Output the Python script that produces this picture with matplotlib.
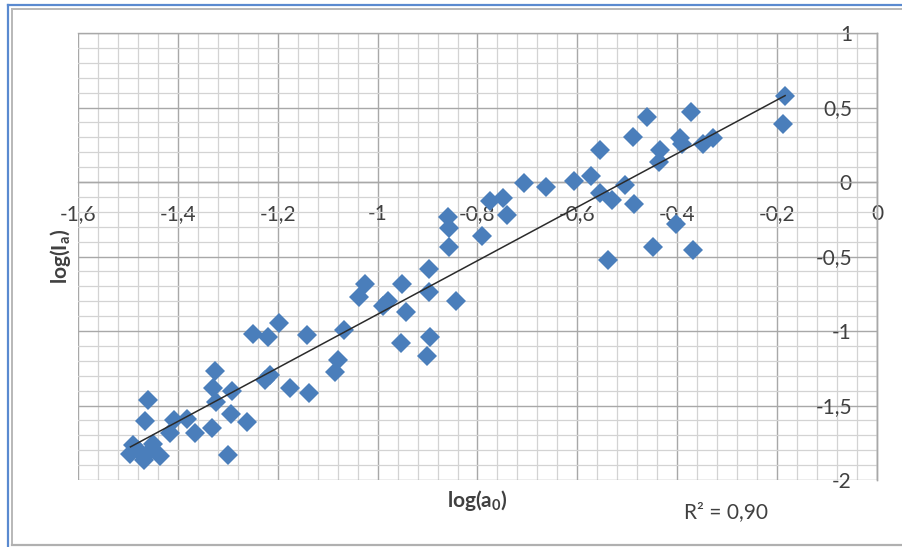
import numpy as np
import matplotlib
matplotlib.use("Agg")
import matplotlib.pyplot as plt
from matplotlib.ticker import FixedLocator, FixedFormatter, MultipleLocator
from matplotlib.lines import Line2D

# ---------------- data ----------------
log_a0 = [-0.184, -0.188, -0.373, -0.461, -0.489, -0.395, -0.391, -0.349, -0.329, -0.434,
          -0.437, -0.555, -0.572, -0.606, -0.505, -0.555, -0.531, -0.486, -0.403, -0.448,
          -0.368, -0.539, -0.663, -0.707, -0.749, -0.774, -0.741, -0.791, -0.860, -0.857,
          -0.858, -0.897, -0.898, -0.843, -0.952, -0.943, -0.980, -0.989, -1.026, -1.038,
          -0.953, -0.896, -0.901, -1.067, -1.079, -1.085, -1.142, -1.197, -1.220, -1.249,
          -1.138, -1.175, -1.215, -1.225, -1.326, -1.330, -1.292, -1.324, -1.294, -1.262,
          -1.331, -1.299, -1.460, -1.466, -1.408, -1.381, -1.416, -1.365, -1.489, -1.450,
          -1.495, -1.468, -1.436, -1.458, -1.480]
log_Ia = [0.575, 0.390, 0.472, 0.438, 0.301, 0.294, 0.252, 0.252, 0.294, 0.216,
          0.135, 0.213, 0.043, 0.010, -0.023, -0.072, -0.122, -0.150, -0.282, -0.435,
          -0.458, -0.523, -0.035, -0.010, -0.110, -0.128, -0.222, -0.363, -0.238, -0.310,
          -0.438, -0.585, -0.737, -0.800, -0.682, -0.875, -0.798, -0.832, -0.687, -0.775,
          -1.079, -1.038, -1.168, -0.990, -1.194, -1.276, -1.028, -0.947, -1.037, -1.022,
          -1.413, -1.385, -1.297, -1.328, -1.270, -1.385, -1.400, -1.475, -1.560, -1.610,
          -1.648, -1.832, -1.460, -1.607, -1.594, -1.588, -1.685, -1.683, -1.767, -1.760,
          -1.828, -1.863, -1.836, -1.812, -1.800]

x_ticks = [-1.6, -1.4, -1.2, -1.0, -0.8, -0.6, -0.4, -0.2, 0.0]
x_tick_labels = ['-1,6', '-1,4', '-1,2', '-1', '-0,8', '-0,6', '-0,4', '-0,2', '0']
y_ticks = [-2.0, -1.5, -1.0, -0.5, 0.0, 0.5, 1.0]
y_tick_labels = ['-2', '-1,5', '-1', '-0,5', '0', '0,5', '1']
x_title = r'$\mathbf{log(a_0)}$'
y_title = r'$\mathbf{log(I_a)}$'

# ---------------- style ----------------
plt.rcParams['font.family'] = ['Lato', 'DejaVu Sans']
plt.rcParams['mathtext.fontset'] = 'custom'
plt.rcParams['mathtext.rm'] = 'Lato'
plt.rcParams['mathtext.bf'] = 'Lato:bold'
plt.rcParams['mathtext.it'] = 'Lato:italic'

W, H = 903, 547
fig = plt.figure(figsize=(W / 100, H / 100), dpi=100)
fig.patch.set_facecolor('white')

ax = fig.add_axes([78 / W, 1 - 480 / H, 799 / W, 447 / H])
ax.set_xlim(-1.6, 0)
ax.set_ylim(-2, 1)

ax.xaxis.set_major_locator(FixedLocator(x_ticks))
ax.xaxis.set_major_formatter(FixedFormatter(x_tick_labels))
ax.yaxis.set_major_locator(FixedLocator(y_ticks))
ax.yaxis.set_major_formatter(FixedFormatter(y_tick_labels))
ax.xaxis.set_minor_locator(MultipleLocator(0.04))
ax.yaxis.set_minor_locator(MultipleLocator(0.1))

ax.grid(which='major', color='#A8A8A8', linewidth=1.0)
ax.grid(which='minor', color='#D3D3D3', linewidth=0.9)
ax.set_axisbelow(True)

for s in ax.spines.values():
    s.set_color('#A8A8A8')
    s.set_linewidth(1.0)
ax.spines['left'].set_position(('data', 0))
ax.spines['bottom'].set_position(('data', 0))

ax.tick_params(which='both', length=0)
ax.tick_params(axis='x', pad=16, labelsize=15, labelcolor='#404040')
ax.tick_params(axis='y', pad=18, labelsize=15, labelcolor='#404040')

# scatter
ax.plot(log_a0, log_Ia, linestyle='none', marker='D', markersize=10,
        color='#4A7EBB', markeredgewidth=0, zorder=3, clip_on=False)

# trendline (linear least squares)
xa = np.array(log_a0)
ya = np.array(log_Ia)
coef = np.polyfit(xa, ya, 1)
xs = np.array([xa.min(), xa.max()])
ax.plot(xs, np.polyval(coef, xs), color='#2B2B2B', linewidth=1.1, zorder=4)
r2 = np.corrcoef(xa, ya)[0, 1] ** 2

# titles
ax.set_xlabel(x_title, fontsize=15, color='#404040')
ax.xaxis.set_label_coords(0.5, -0.045)
ax.xaxis.label.set_va('center')
ax.set_ylabel(y_title, fontsize=15, color='#404040')
ax.yaxis.set_label_coords(-0.0225, 0.5)
ax.yaxis.label.set_va('center')

ax.text(0.811, -0.072, ('R² = %.2f' % r2).replace('.', ','), transform=ax.transAxes,
        ha='center', va='center', fontsize=15, color='#404040')

# frame around the figure
def px(x, y):
    return x / W, 1 - y / H

for (x0, y0, x1, y1, c, lw) in [
        (8, 5, 903, 5, '#5A8AD0', 1.6),
        (8, 5, 8, 547, '#5A8AD0', 1.6),
        (12, 9, 903, 9, '#B8B8B8', 1.4),
        (12, 9, 12, 545, '#B8B8B8', 1.4),
        (12, 545, 903, 545, '#B0B0B0', 1.6)]:
    a, b = px(x0, y0)
    c2, d = px(x1, y1)
    fig.add_artist(Line2D([a, c2], [b, d], transform=fig.transFigure, color=c, linewidth=lw))

fig.savefig('out.png', dpi=100)
